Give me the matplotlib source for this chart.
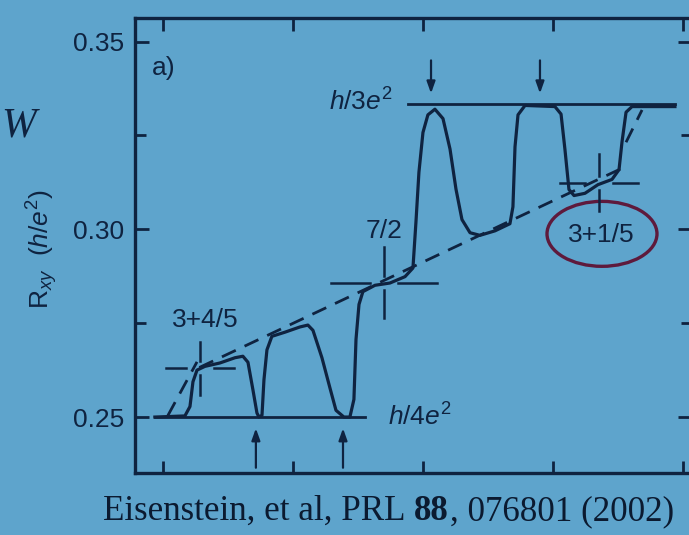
import matplotlib
matplotlib.use("Agg")
import matplotlib.pyplot as plt
from matplotlib.patches import Ellipse

field = [0.938, 1.169, 1.208, 1.231, 1.262, 1.323, 1.438, 1.554, 1.615, 1.654,
         1.692, 1.723, 1.738, 1.762, 1.777, 1.800, 1.838, 1.938, 2.054, 2.115,
         2.154, 2.223, 2.285, 2.331, 2.392, 2.438, 2.469, 2.485, 2.508, 2.538,
         2.631, 2.746, 2.862, 2.923, 2.946, 2.969, 3.000, 3.038, 3.092, 3.154,
         3.208, 3.254, 3.300, 3.362, 3.438, 3.554, 3.669, 3.692, 3.708, 3.731,
         3.785, 4.015, 4.062, 4.092, 4.123, 4.162, 4.246, 4.346, 4.454, 4.508,
         4.531, 4.562, 4.608, 4.938]
rxy = [0.2500, 0.2503, 0.2528, 0.2594, 0.2625, 0.2635, 0.2644, 0.2658, 0.2662, 0.2646,
       0.2573, 0.2511, 0.2500, 0.2505, 0.2599, 0.2679, 0.2715, 0.2726, 0.2740, 0.2745,
       0.2731, 0.2658, 0.2577, 0.2518, 0.2500, 0.2500, 0.2547, 0.2707, 0.2800, 0.2834,
       0.2851, 0.2857, 0.2874, 0.2897, 0.3019, 0.3152, 0.3258, 0.3305, 0.3320, 0.3295,
       0.3214, 0.3107, 0.3026, 0.2991, 0.2984, 0.2996, 0.3015, 0.3060, 0.3220, 0.3305,
       0.3330, 0.3327, 0.3307, 0.3213, 0.3106, 0.3090, 0.3096, 0.3119, 0.3133, 0.3159,
       0.3233, 0.3312, 0.3327, 0.3327]

# classical hall line + the two short dashed risers
classical_field = [1.28, 4.52]
classical_rxy = [0.2632, 0.3161]
riser_field = [[1.038, 1.262], [4.562, 4.685]]
riser_rxy = [[0.2504, 0.2647], [0.3232, 0.3318]]

# cross markers at the reentrant fractions
cross_field = [1.285, 2.70, 4.354]
cross_rxy = [0.2630, 0.2858, 0.3124]
cross_halfwidth = [0.26, 0.41, 0.30]
cross_halfheight = [0.0071, 0.0095, 0.0076]
fraction_labels = ["3+4/5", "7/2", "3+1/5"]
fraction_field = [1.323, 2.70, 4.369]
fraction_rxy = [0.2758, 0.2996, 0.2985]

plateau_rxy = [0.25, 1 / 3]
plateau_from = [0.938, 2.885]
plateau_to = [2.554, 4.938]
plateau_labels = [r"$\mathit{h/4e}^{2}$", r"$\mathit{h/3e}^{2}$"]

down_arrow_field = [3.062, 3.90]
up_arrow_field = [1.715, 2.385]

yticks = [0.25, 0.30, 0.35]
ytick_labels = ["0.25", "0.30", "0.35"]
yminor = [0.275, 0.325]
xticks = [1, 2, 3, 4, 5]

ink = "#0f2340"
bg = "#5ea4cc"

plt.rcParams["font.family"] = ["Liberation Sans", "DejaVu Sans"]
plt.rcParams["mathtext.fontset"] = "custom"
plt.rcParams["mathtext.rm"] = "Liberation Sans"
plt.rcParams["mathtext.it"] = "Liberation Sans:italic"
plt.rcParams["mathtext.bf"] = "Liberation Sans:bold"
plt.rcParams["lines.scale_dashes"] = False

fig = plt.figure(figsize=(6.89, 5.35), dpi=100, facecolor=bg)
ax = fig.add_axes([0.1959, 0.1159, 0.8084, 0.8505], facecolor=bg)

ax.plot(field, rxy, color=ink, lw=2.3, solid_joinstyle="round")
ax.plot(classical_field, classical_rxy, color=ink, lw=2.0, dashes=(11, 7))
for fx, fr in zip(riser_field, riser_rxy):
    ax.plot(fx, fr, color=ink, lw=2.0, dashes=(11, 7))

for r, x0, x1 in zip(plateau_rxy, plateau_from, plateau_to):
    ax.plot([x0, x1], [r, r], color=ink, lw=2.0)
ax.text(2.731, 0.2478, plateau_labels[0], fontsize=19, color=ink, ha="left", va="baseline")
ax.text(2.769, 0.3316, plateau_labels[1], fontsize=19, color=ink, ha="right", va="baseline")

gx, gy = 0.11, 0.0019
for cx, cr, hw, hh in zip(cross_field, cross_rxy, cross_halfwidth, cross_halfheight):
    ax.plot([cx - hw, cx - gx], [cr, cr], color=ink, lw=1.8)
    ax.plot([cx + gx, cx + hw], [cr, cr], color=ink, lw=1.8)
    ax.plot([cx, cx], [cr - hh, cr - gy], color=ink, lw=1.8)
    ax.plot([cx, cx], [cr + gy, cr + hh], color=ink, lw=1.8)

for lab, fx, fr in zip(fraction_labels, fraction_field, fraction_rxy):
    ax.text(fx, fr, lab, fontsize=19, color=ink, ha="center", va="center")
ax.add_patch(Ellipse((4.377, 0.2988), 0.846, 0.0173, fill=False,
                     edgecolor="#5e1a3c", lw=2.4))

arrow = dict(arrowstyle="-|>,head_length=0.7,head_width=0.25", color=ink, lw=1.6,
             shrinkA=0, shrinkB=0)
for x in down_arrow_field:
    ax.annotate("", xy=(x, 0.3362), xytext=(x, 0.3450), arrowprops=arrow)
for x in up_arrow_field:
    ax.annotate("", xy=(x, 0.2470), xytext=(x, 0.2365), arrowprops=arrow)

ax.text(0.915, 0.343, "a)", fontsize=19, color=ink, ha="left", va="center")

ax.set_xlim(0.785, 5.069)
ax.set_ylim(0.2351, 0.3563)
ax.set_xticks(xticks)
ax.set_yticks(yticks)
ax.set_yticklabels(ytick_labels)
ax.set_yticks(yminor, minor=True)
ax.tick_params(axis="x", direction="in", length=9, width=2, color=ink,
               top=True, labelbottom=False)
ax.tick_params(axis="y", which="major", direction="in", length=10, width=2, color=ink,
               right=True, pad=8, labelsize=19, labelcolor=ink)
ax.tick_params(axis="y", which="minor", direction="in", length=8, width=2, color=ink,
               right=True)
for s in ax.spines.values():
    s.set_linewidth(2.4)
    s.set_color(ink)

fig.text(0.061, 0.535, r"R$_{\mathit{xy}}$  $(\mathit{h/e}^{2})$", fontsize=19,
         color=ink, rotation=90, ha="center", va="center")
fig.text(0.002, 0.764, "W", family="Liberation Serif", style="italic", fontsize=30,
         color=ink, ha="left", va="center")

# citation line, "88" in bold
renderer = fig.canvas.get_renderer()
yb = 0.028
cite = dict(family="Liberation Serif", fontsize=25.2, color="#0b1a30", va="baseline")
t1 = fig.text(0.150, yb, "Eisenstein, et al, PRL", **cite)
x1 = t1.get_window_extent(renderer).x1 + 8.5
t2 = fig.text(x1 / fig.bbox.width, yb, "88", weight="bold", **cite)
x2 = t2.get_window_extent(renderer).x1 + 1
fig.text(x2 / fig.bbox.width, yb, ", 076801 (2002)", **cite)

fig.savefig("out.png", dpi=100, facecolor=bg)
